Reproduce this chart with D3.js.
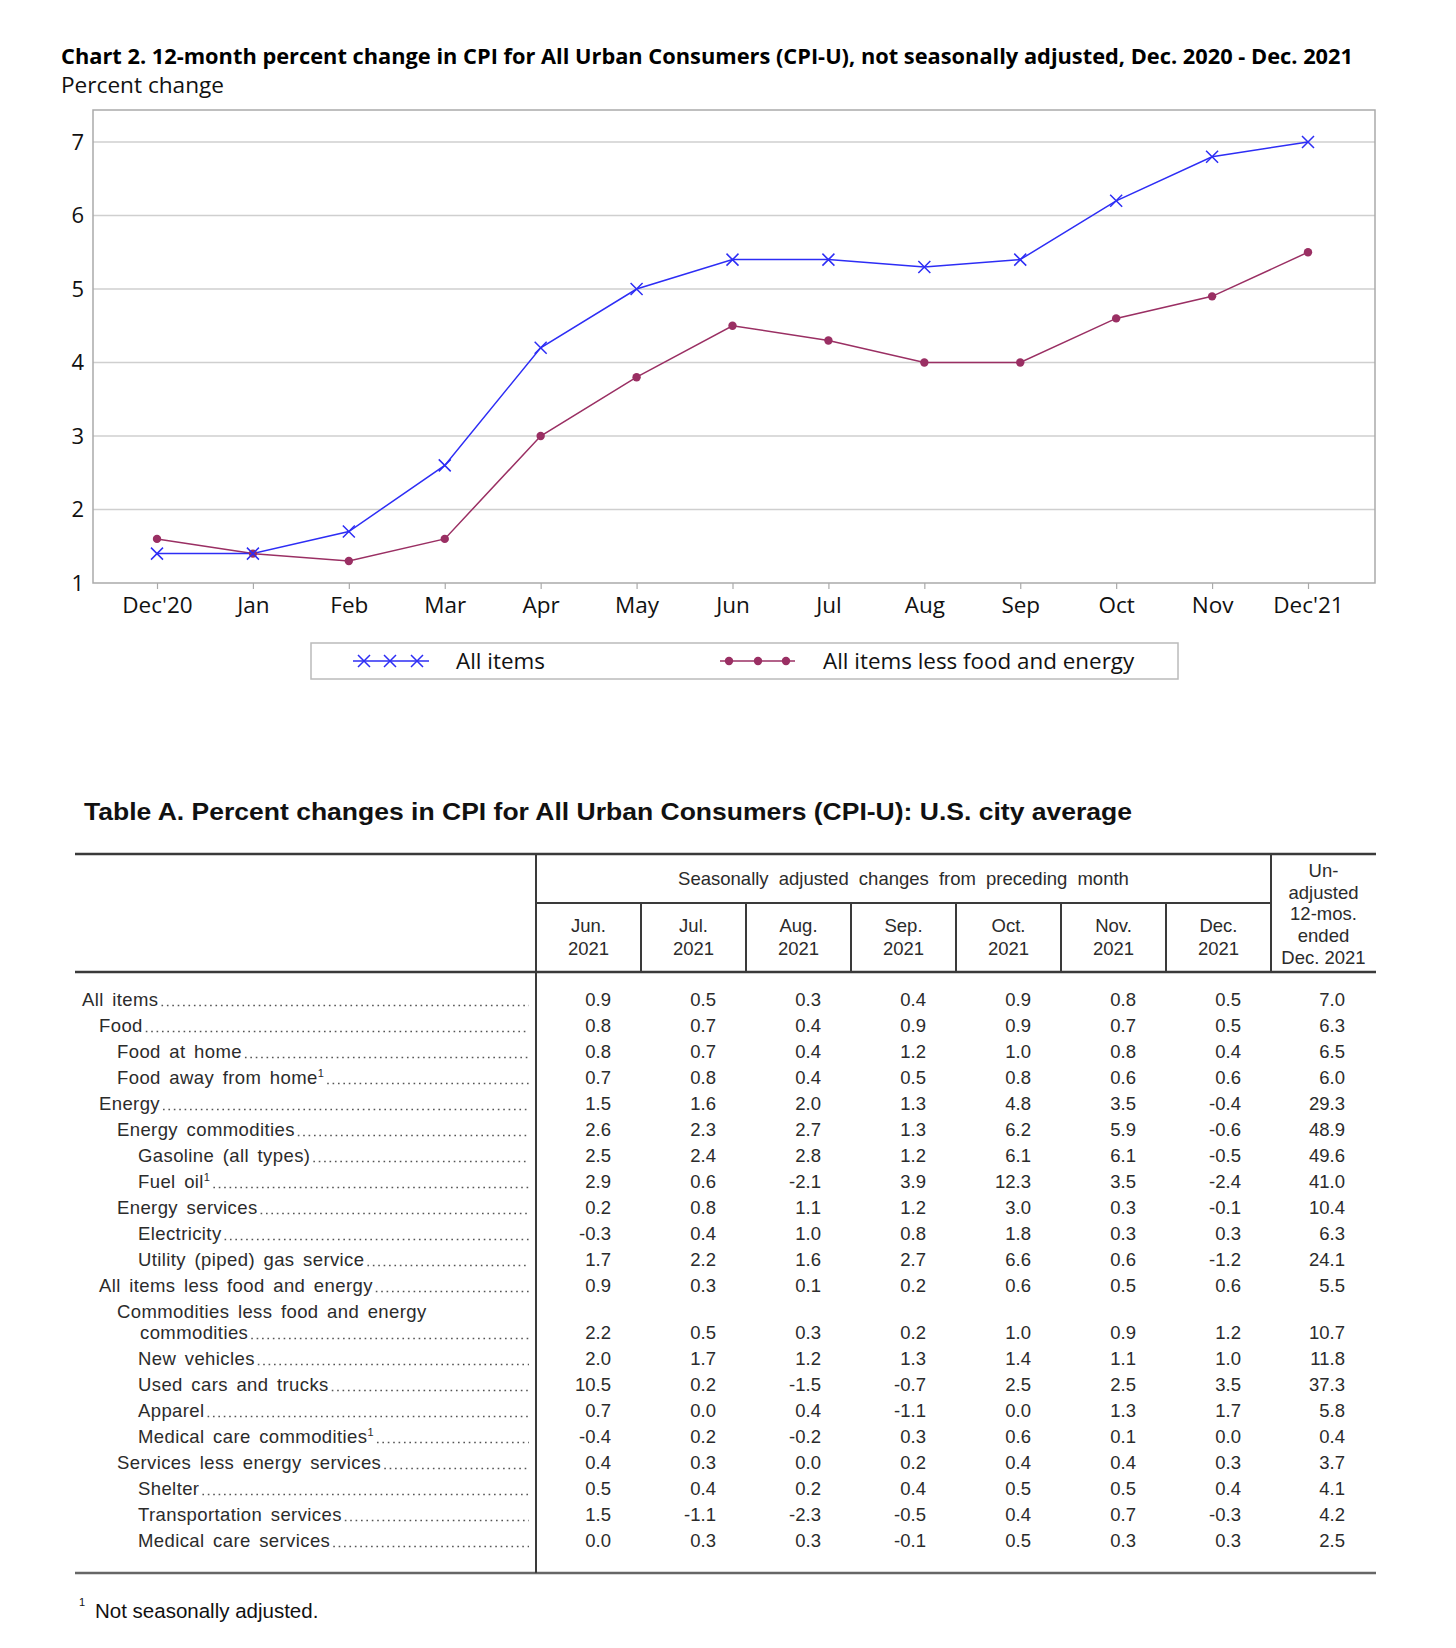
<!DOCTYPE html>
<html><head><meta charset="utf-8">
<script src="https://cdn.jsdelivr.net/npm/d3@7"></script>
<style>
html,body{margin:0;padding:0;background:#fff;}
svg{display:block;}
</style></head>
<body>
<svg id="c" width="1456" height="1648"></svg>
<script>
// ---------- Chart data ----------
const months = ["Dec'20","Jan","Feb","Mar","Apr","May","Jun","Jul","Aug","Sep","Oct","Nov","Dec'21"];
const allItems = [1.4,1.4,1.7,2.6,4.2,5.0,5.4,5.4,5.3,5.4,6.2,6.8,7.0];
const coreItems = [1.6,1.4,1.3,1.6,3.0,3.8,4.5,4.3,4.0,4.0,4.6,4.9,5.5];
const yTicks = [1,2,3,4,5,6,7];
const seriesNames = ["All items","All items less food and energy"];
const chartTitle = "Chart 2. 12-month percent change in CPI for All Urban Consumers (CPI-U), not seasonally adjusted, Dec. 2020 - Dec. 2021";
const yAxisTitle = "Percent change";

// ---------- Table data ----------
const tableTitle = "Table A. Percent changes in CPI for All Urban Consumers (CPI-U): U.S. city average";
const groupHeader = "Seasonally adjusted changes from preceding month";
const colMonths = [["Jun.","2021"],["Jul.","2021"],["Aug.","2021"],["Sep.","2021"],["Oct.","2021"],["Nov.","2021"],["Dec.","2021"]];
const lastColHeader = ["Un-","adjusted","12-mos.","ended","Dec. 2021"];
const rowLabels = ["All items","Food","Food at home","Food away from home¹","Energy","Energy commodities","Gasoline  (all types)","Fuel oil¹","Energy services","Electricity","Utility  (piped) gas service","All items less food and energy","Commodities less food and energy|commodities","New vehicles","Used cars and trucks","Apparel","Medical care commodities¹","Services less energy services","Shelter","Transportation  services","Medical care services"];
const rowLevels = [0,1,2,2,1,2,3,3,2,3,3,1,2,3,3,3,3,2,3,3,3];
const monthValues = [
  [0.9,0.5,0.3,0.4,0.9,0.8,0.5],
  [0.8,0.7,0.4,0.9,0.9,0.7,0.5],
  [0.8,0.7,0.4,1.2,1.0,0.8,0.4],
  [0.7,0.8,0.4,0.5,0.8,0.6,0.6],
  [1.5,1.6,2.0,1.3,4.8,3.5,-0.4],
  [2.6,2.3,2.7,1.3,6.2,5.9,-0.6],
  [2.5,2.4,2.8,1.2,6.1,6.1,-0.5],
  [2.9,0.6,-2.1,3.9,12.3,3.5,-2.4],
  [0.2,0.8,1.1,1.2,3.0,0.3,-0.1],
  [-0.3,0.4,1.0,0.8,1.8,0.3,0.3],
  [1.7,2.2,1.6,2.7,6.6,0.6,-1.2],
  [0.9,0.3,0.1,0.2,0.6,0.5,0.6],
  [2.2,0.5,0.3,0.2,1.0,0.9,1.2],
  [2.0,1.7,1.2,1.3,1.4,1.1,1.0],
  [10.5,0.2,-1.5,-0.7,2.5,2.5,3.5],
  [0.7,0.0,0.4,-1.1,0.0,1.3,1.7],
  [-0.4,0.2,-0.2,0.3,0.6,0.1,0.0],
  [0.4,0.3,0.0,0.2,0.4,0.4,0.3],
  [0.5,0.4,0.2,0.4,0.5,0.5,0.4],
  [1.5,-1.1,-2.3,-0.5,0.4,0.7,-0.3],
  [0.0,0.3,0.3,-0.1,0.5,0.3,0.3]
];
const unadjusted12 = [7.0,6.3,6.5,6.0,29.3,48.9,49.6,41.0,10.4,6.3,24.1,5.5,10.7,11.8,37.3,5.8,0.4,3.7,4.1,4.2,2.5];
const footnote = "Not seasonally adjusted.";

// ---------- Drawing ----------
const svg = d3.select("#c");
const blue = "#2d2df5", plum = "#9a2f63";
const chartFont = "'Open Sans', 'Noto Sans', sans-serif";
const tabFont = "'Liberation Sans', Arial, sans-serif";

// Title
svg.append("text").attr("x",61).attr("y",64)
  .attr("font-family",chartFont).attr("font-weight",700).attr("font-size",21)
  .attr("textLength",1292).attr("lengthAdjust","spacingAndGlyphs")
  .attr("fill","#000").text(chartTitle);
svg.append("text").attr("x",61).attr("y",93)
  .attr("font-family",chartFont).attr("font-size",21)
  .attr("textLength",163).attr("lengthAdjust","spacingAndGlyphs")
  .attr("fill","#111").text(yAxisTitle);

const plot = {left:93, right:1375, top:110, bottom:583};
const x = d3.scalePoint().domain(months).range([157,1308]);
const y = d3.scaleLinear().domain([1,7]).range([plot.bottom,142]);

// gridlines
svg.append("g").selectAll("line").data(yTicks.filter(t=>t>1)).join("line")
  .attr("x1",plot.left).attr("x2",plot.right)
  .attr("y1",d=>y(d)).attr("y2",d=>y(d))
  .attr("stroke","#cfcfcf").attr("stroke-width",1.5);
// frame
svg.append("rect").attr("x",plot.left).attr("y",plot.top)
  .attr("width",plot.right-plot.left).attr("height",plot.bottom-plot.top)
  .attr("fill","none").attr("stroke","#aaaaaa").attr("stroke-width",1.5);

// y axis labels
const yAxis = d3.axisLeft(y).tickValues(yTicks).tickFormat(d3.format("d")).tickSize(0).tickPadding(9);
const gy = svg.append("g").attr("transform",`translate(${plot.left},0)`).call(yAxis);
gy.select(".domain").remove();
gy.selectAll("text").attr("font-family",chartFont).attr("font-size",22).attr("fill","#111");

// x axis
const xAxis = d3.axisBottom(x).tickSize(6).tickPadding(8);
const gx = svg.append("g").attr("transform",`translate(0,${plot.bottom})`).call(xAxis);
gx.select(".domain").remove();
gx.selectAll("line").attr("stroke","#aaaaaa").attr("stroke-width",1.2);
gx.selectAll("text").attr("font-family",chartFont).attr("font-size",22.5).attr("fill","#111");

// lines
const line = d3.line().x((d,i)=>x(months[i])).y(d=>y(d));
svg.append("path").datum(coreItems).attr("d",line).attr("fill","none").attr("stroke",plum).attr("stroke-width",1.5);
svg.append("path").datum(allItems).attr("d",line).attr("fill","none").attr("stroke",blue).attr("stroke-width",1.5);

function xMark(g, cx, cy, s){
  g.append("path").attr("d",`M${cx-s},${cy-s}L${cx+s},${cy+s}M${cx-s},${cy+s}L${cx+s},${cy-s}`)
   .attr("stroke",blue).attr("stroke-width",1.5).attr("fill","none");
}
const mk = svg.append("g");
coreItems.forEach((v,i)=>mk.append("circle").attr("cx",x(months[i])).attr("cy",y(v)).attr("r",4.2).attr("fill",plum));
allItems.forEach((v,i)=>xMark(mk, x(months[i]), y(v), 6));

// legend
const lg = svg.append("g");
lg.append("rect").attr("x",311).attr("y",643).attr("width",867).attr("height",36)
  .attr("fill","#fff").attr("stroke","#bbbbbb").attr("stroke-width",1.5);
const ly = 661;
lg.append("line").attr("x1",353).attr("x2",429).attr("y1",ly).attr("y2",ly).attr("stroke",blue).attr("stroke-width",1.5);
[364,390,417].forEach(cx=>xMark(lg,cx,ly,6));
lg.append("text").attr("x",456).attr("y",ly+8).attr("font-family",chartFont).attr("font-size",22.4).attr("fill","#111").text(seriesNames[0]);
lg.append("line").attr("x1",720).attr("x2",795).attr("y1",ly).attr("y2",ly).attr("stroke",plum).attr("stroke-width",1.5);
[729,758,786].forEach(cx=>lg.append("circle").attr("cx",cx).attr("cy",ly).attr("r",4.2).attr("fill",plum));
lg.append("text").attr("x",823).attr("y",ly+8).attr("font-family",chartFont).attr("font-size",22.4).attr("fill","#111").text(seriesNames[1]);

// ---------- Table ----------
const tb = svg.append("g").attr("font-family",tabFont);
tb.append("text").attr("x",84).attr("y",820).attr("font-weight",700).attr("font-size",24)
  .attr("textLength",1048).attr("lengthAdjust","spacingAndGlyphs").attr("fill","#111").text(tableTitle);

const tLeft = 75, tRight = 1376, colStart = 536, colEnd = 1271;
const xc = d3.scaleBand().domain(d3.range(colMonths.length)).range([colStart,colEnd]);
const hTop = 854, hMid = 903, hBot = 972, tBot = 1573;
const lineCol = "#3a3a3a";
// horizontal rules
tb.append("line").attr("x1",tLeft).attr("x2",tRight).attr("y1",hTop).attr("y2",hTop).attr("stroke",lineCol).attr("stroke-width",2.5);
tb.append("line").attr("x1",colStart).attr("x2",colEnd).attr("y1",hMid).attr("y2",hMid).attr("stroke",lineCol).attr("stroke-width",2);
tb.append("line").attr("x1",tLeft).attr("x2",tRight).attr("y1",hBot).attr("y2",hBot).attr("stroke",lineCol).attr("stroke-width",2.5);
tb.append("line").attr("x1",tLeft).attr("x2",tRight).attr("y1",tBot).attr("y2",tBot).attr("stroke","#666").attr("stroke-width",2.5);
// vertical rules
tb.append("line").attr("x1",colStart).attr("x2",colStart).attr("y1",hTop).attr("y2",tBot).attr("stroke",lineCol).attr("stroke-width",2);
tb.append("line").attr("x1",colEnd).attr("x2",colEnd).attr("y1",hTop).attr("y2",hBot).attr("stroke",lineCol).attr("stroke-width",2);
tb.selectAll(".vsep").data(d3.range(1,colMonths.length)).join("line")
  .attr("x1",d=>xc(d)).attr("x2",d=>xc(d)).attr("y1",hMid).attr("y2",hBot)
  .attr("stroke",lineCol).attr("stroke-width",2);

const txtCol = "#2b2b2b";
tb.append("text").attr("x",(colStart+colEnd)/2).attr("y",885).attr("text-anchor","middle")
  .attr("font-size",18.5).attr("word-spacing",5).attr("fill",txtCol).text(groupHeader);
colMonths.forEach((m,i)=>{
  m.forEach((s,j)=>tb.append("text").attr("x",xc(i)+xc.bandwidth()/2).attr("y",932+j*23)
    .attr("text-anchor","middle").attr("font-size",18.5).attr("fill",txtCol).text(s));
});
lastColHeader.forEach((s,j)=>tb.append("text").attr("x",(colEnd+tRight)/2).attr("y",877+j*21.7)
  .attr("text-anchor","middle").attr("font-size",18.5).attr("fill",txtCol).text(s));

// rows
const levelX = [82,99,117,138];
const rowStep = 26.0, firstRowY = 999.5, extraLine = 21;
let yCur = firstRowY;
const leaderEnd = 529;
rowLabels.forEach((lab,i)=>{
  const parts = lab.split("|");
  let labY = yCur;
  if(parts.length>1){
    tb.append("text").attr("x",levelX[rowLevels[i]]).attr("y",labY+6).attr("font-size",18.5)
      .attr("word-spacing",3).attr("letter-spacing",0.4).attr("fill",txtCol).text(parts[0]);
    yCur += extraLine;
    labY = yCur;
  }
  const lx = parts.length>1 ? levelX[3]+2 : levelX[rowLevels[i]];
  const t = tb.append("text").attr("x",lx).attr("y",labY+6).attr("font-size",18.5)
    .attr("word-spacing",3).attr("letter-spacing",0.4).attr("fill",txtCol);
  const main = parts[parts.length-1];
  if(main.endsWith("¹")){
    t.append("tspan").text(main.slice(0,-1));
    t.append("tspan").attr("font-size",11).attr("dy",-7).text("1");
  } else t.text(main);
  const w = t.node().getComputedTextLength();
  tb.append("line").attr("x1",lx+w+3).attr("x2",leaderEnd).attr("y1",labY+6).attr("y2",labY+6)
    .attr("stroke","#555").attr("stroke-width",1.6).attr("stroke-dasharray","1.6 3.8");
  monthValues[i].forEach((v,j)=>{
    tb.append("text").attr("x",xc(j)+75).attr("y",labY+6).attr("text-anchor","end")
      .attr("font-size",18.5).attr("fill",txtCol).text(v.toFixed(1));
  });
  tb.append("text").attr("x",colEnd+74).attr("y",labY+6).attr("text-anchor","end")
    .attr("font-size",18.5).attr("fill",txtCol).text(unadjusted12[i].toFixed(1));
  yCur += rowStep;
});

// footnote
tb.append("text").attr("x",79).attr("y",1606).attr("font-size",11).attr("fill","#111").text("1");
tb.append("text").attr("x",95).attr("y",1618).attr("font-size",20.5).attr("fill","#111").text(footnote);
</script>
</body></html>
